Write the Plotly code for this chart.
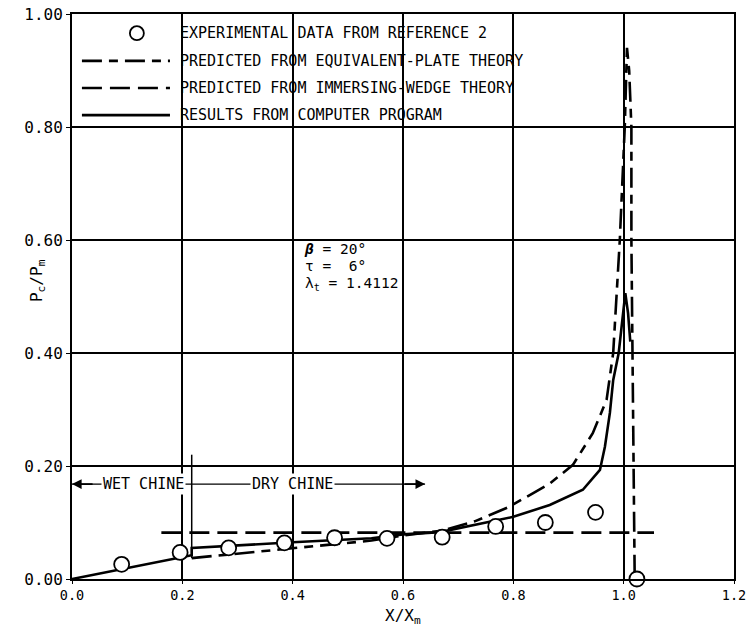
import plotly.graph_objects as go

# ---------------- data ----------------
exp_x = [0.090, 0.196, 0.284, 0.385, 0.476, 0.571, 0.671, 0.768, 0.858, 0.949, 1.024]
exp_y = [0.026, 0.047, 0.055, 0.064, 0.073, 0.072, 0.074, 0.093, 0.100, 0.118, 0.000]

prog_x = [0.0, 0.217, 0.217, 0.300, 0.400, 0.543, 0.600, 0.667, 0.715, 0.800, 0.866,
          0.926, 0.957, 0.966, 0.975, 0.981, 0.991, 0.998, 1.003, 1.008, 1.012]
prog_y = [0.0, 0.042, 0.055, 0.060, 0.065, 0.072, 0.079, 0.083, 0.093, 0.110, 0.131,
          0.158, 0.193, 0.234, 0.294, 0.352, 0.400, 0.460, 0.506, 0.470, 0.420]

plate_x = [0.217, 0.400, 0.543, 0.600, 0.673, 0.730, 0.793, 0.866, 0.908, 0.944, 0.969,
           0.981, 0.993, 1.002, 1.006, 1.010, 1.014, 1.014, 1.016, 1.018, 1.020]
plate_y = [0.037, 0.054, 0.068, 0.077, 0.086, 0.102, 0.128, 0.169, 0.202, 0.258, 0.317,
           0.400, 0.600, 0.800, 0.940, 0.900, 0.800, 0.600, 0.400, 0.200, 0.000]

wedge_x = [0.162, 1.055]
wedge_y = [0.082, 0.082]

x_ticks = [0.0, 0.2, 0.4, 0.6, 0.8, 1.0, 1.2]
y_ticks = [0.0, 0.2, 0.4, 0.6, 0.8, 1.0]

chine_boundary_x = 0.217
chine_boundary_y = [0.037, 0.220]
chine_arrow_y = 0.168
chine_arrow_end = 0.640

legend_labels = ["EXPERIMENTAL DATA FROM REFERENCE 2",
                 "PREDICTED FROM EQUIVALENT-PLATE THEORY",
                 "PREDICTED FROM IMMERSING-WEDGE THEORY",
                 "RESULTS FROM COMPUTER PROGRAM"]

# ---------------- styles ----------------
MONO = "DejaVu Sans Mono"
PLATE_DASH = "20px,7px,9px,7px"
WEDGE_DASH = "20px,8px"

fig = go.Figure()

fig.add_trace(go.Scatter(x=wedge_x, y=wedge_y, mode="lines",
                         line=dict(color="black", width=2.6, dash=WEDGE_DASH),
                         showlegend=False))
fig.add_trace(go.Scatter(x=plate_x, y=plate_y, mode="lines",
                         line=dict(color="black", width=2.6, dash=PLATE_DASH),
                         showlegend=False))
fig.add_trace(go.Scatter(x=prog_x, y=prog_y, mode="lines",
                         line=dict(color="black", width=2.6),
                         showlegend=False))
fig.add_trace(go.Scatter(x=exp_x, y=exp_y, mode="markers", cliponaxis=False,
                         marker=dict(symbol="circle", size=15, color="white",
                                     line=dict(color="black", width=1.8)),
                         showlegend=False))

shapes = []
annotations = []

# wet / dry chine marker
shapes.append(dict(type="line", xref="x", yref="y",
                   x0=chine_boundary_x, x1=chine_boundary_x,
                   y0=chine_boundary_y[0], y1=chine_boundary_y[1],
                   line=dict(color="black", width=1.5)))
shapes.append(dict(type="line", xref="x", yref="y", x0=0.0, x1=chine_arrow_end,
                   y0=chine_arrow_y, y1=chine_arrow_y,
                   line=dict(color="black", width=1.3)))
annotations.append(dict(x=0.0, y=chine_arrow_y, ax=0.04, ay=chine_arrow_y,
                        xref="x", yref="y", axref="x", ayref="y", text="",
                        showarrow=True, arrowhead=2, arrowsize=1.2, arrowwidth=1.6,
                        arrowcolor="black"))
annotations.append(dict(x=chine_arrow_end, y=chine_arrow_y, ax=chine_arrow_end - 0.04,
                        ay=chine_arrow_y, xref="x", yref="y", axref="x", ayref="y",
                        text="", showarrow=True, arrowhead=2, arrowsize=1.2,
                        arrowwidth=1.6, arrowcolor="black"))
annotations.append(dict(x=0.130, y=chine_arrow_y, xref="x", yref="y", text="WET CHINE",
                        showarrow=False, bgcolor="white", borderpad=1,
                        font=dict(family=MONO, size=15, color="black")))
annotations.append(dict(x=0.400, y=chine_arrow_y, xref="x", yref="y", text="DRY CHINE",
                        showarrow=False, bgcolor="white", borderpad=1,
                        font=dict(family=MONO, size=15, color="black")))

# parameters block (one annotation, compact line spacing)
param_rows = ["<b><i>β</i></b>\u00a0=\u00a020°",
              "τ\u00a0=\u00a0\u00a06°",
              "λ<sub>t</sub>\u00a0=\u00a01.4112"]
param_text = "<br>".join("<span style='font-size:14.5px'>" + r + "</span>" for r in param_rows)
annotations.append(dict(x=0.417, y=0.553, xref="x", yref="y", text=param_text,
                        xanchor="left", yanchor="middle", align="left", showarrow=False,
                        font=dict(family=MONO, size=13, color="black")))

# axis titles
annotations.append(dict(x=0.6, y=-0.066, xref="x", yref="paper", text="X/X<sub>m</sub>",
                        showarrow=False, yanchor="middle",
                        font=dict(family=MONO, size=16, color="black")))
annotations.append(dict(x=-0.053, y=0.529, xref="paper", yref="paper",
                        text="P<sub>c</sub>/P<sub>m</sub>", textangle=-90,
                        showarrow=False, xanchor="center", yanchor="middle",
                        font=dict(family=MONO, size=16, color="black")))

# manual legend (paper coordinates)
leg_rows = [0.966, 0.917, 0.869, 0.821]
samp_x0, samp_x1 = 0.015, 0.148
for lab, ry in zip(legend_labels, leg_rows):
    annotations.append(dict(x=0.160, y=ry, xref="paper", yref="paper", text=lab,
                            xanchor="left", yanchor="middle", showarrow=False,
                            font=dict(family=MONO, size=15, color="black")))
shapes.append(dict(type="circle", xref="paper", yref="paper", xsizemode="pixel",
                   ysizemode="pixel", xanchor=0.098, yanchor=leg_rows[0],
                   x0=-7, x1=7, y0=-7, y1=7, line=dict(color="black", width=1.8),
                   fillcolor="white"))
for ry, dash in zip(leg_rows[1:], [PLATE_DASH, WEDGE_DASH, "solid"]):
    shapes.append(dict(type="line", xref="paper", yref="paper", x0=samp_x0, x1=samp_x1,
                       y0=ry, y1=ry, line=dict(color="black", width=2.6, dash=dash)))

fig.update_layout(
    width=746, height=635,
    margin=dict(l=72, r=12, t=14, b=56, autoexpand=False),
    paper_bgcolor="white", plot_bgcolor="white",
    shapes=shapes, annotations=annotations,
    showlegend=False,
    xaxis=dict(range=[0, 1.2], tickvals=x_ticks, tickformat=".1f", automargin=False,
               showgrid=True, gridcolor="black", gridwidth=1.5,
               showline=True, linecolor="black", linewidth=2, mirror=True,
               ticks="outside", ticklen=3, tickcolor="black", zeroline=False,
               ticklabeloverflow="allow",
               tickfont=dict(family=MONO, size=13.5, color="black")),
    yaxis=dict(range=[0, 1.0], tickvals=y_ticks, tickformat=".2f", automargin=False,
               showgrid=True, gridcolor="black", gridwidth=1.5,
               showline=True, linecolor="black", linewidth=2, mirror=True,
               ticks="outside", ticklen=4, tickcolor="black", zeroline=False,
               tickfont=dict(family=MONO, size=16, color="black")),
)

fig.write_html("out.html", config={"displayModeBar": False},
               post_script="document.body.style.margin='0px';"
                           "document.body.style.overflow='hidden';")
